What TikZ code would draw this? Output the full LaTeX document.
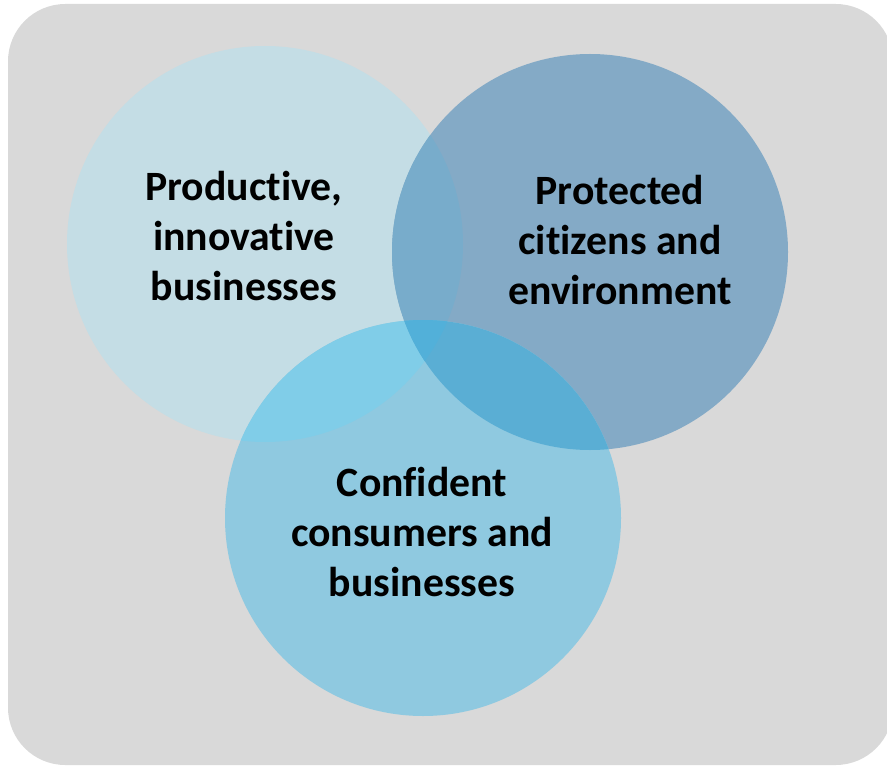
\documentclass[tikz,border=0pt]{standalone}
\usepackage{fontspec}
\setmainfont{Carlito}[Ligatures={NoCommon}]
\usepackage{tikz}

\begin{document}
\begin{tikzpicture}[x=0.75pt,y=0.75pt,yscale=-1,xscale=1]
\useasboundingbox (0,0) rectangle (887,766);

%Shape: Rounded Rect [background]
\fill [color={rgb, 255:red, 217; green, 217; blue, 217 }] [rounded corners=43pt] (8,4) rectangle (893,765) ;

%Shape: Circle [productive]
\fill [color={rgb, 255:red, 196; green, 221; blue, 229 }] (265,244) circle [radius=198] ;
%Shape: Circle [protected]
\fill [color={rgb, 255:red, 132; green, 170; blue, 198 }] (590,252) circle [radius=198] ;
%Shape: Circle [confident]
\fill [color={rgb, 255:red, 143; green, 201; blue, 224 }] (423,518) circle [radius=198] ;

%Overlaps
\begin{scope}
\clip (265,244) circle [radius=198] ;
\fill [color={rgb, 255:red, 120; green, 172; blue, 203 }] (590,252) circle [radius=198] ;
\fill [color={rgb, 255:red, 128; green, 205; blue, 232 }] (423,518) circle [radius=198] ;
\end{scope}
\begin{scope}
\clip (590,252) circle [radius=198] ;
\fill [color={rgb, 255:red, 90; green, 174; blue, 212 }] (423,518) circle [radius=198] ;
\clip (265,244) circle [radius=198] ;
\fill [color={rgb, 255:red, 82; green, 176; blue, 217 }] (423,518) circle [radius=198] ;
\end{scope}

% Text Node
\draw (244,236) node (productive) [font=\bfseries\fontsize{31.3}{37.8}\selectfont] [align=center] {Productive,\\innovative\\businesses};
% Text Node
\draw (620,240) node (protected) [font=\bfseries\fontsize{31.3}{37.8}\selectfont] [align=center] {Protected\\citizens and\\environment};
% Text Node
\draw (422,532) node (confident) [font=\bfseries\fontsize{31.3}{37.8}\selectfont] [align=center] {Confident\\consumers and\\businesses};

\end{tikzpicture}
\end{document}
